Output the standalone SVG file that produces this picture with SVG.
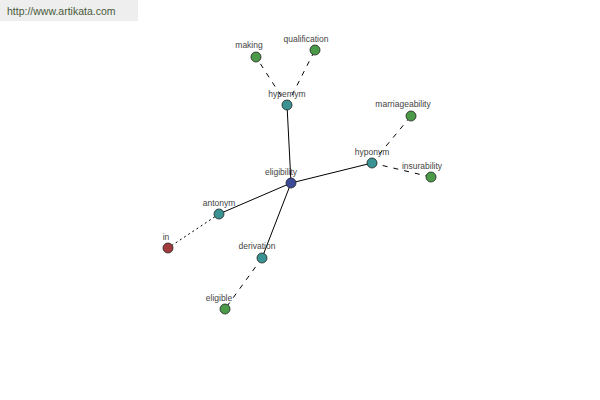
<svg xmlns="http://www.w3.org/2000/svg" width="600" height="400" viewBox="0 0 600 400">
<style>
.lbl{font-family:"Liberation Sans",Arial,sans-serif;font-size:8.5px;fill:#444;text-anchor:middle}
.n{stroke:#222;stroke-width:0.8}
.hub{fill:#3c4a98}
.rel{fill:#3a9292}
.leaf{fill:#4a9a48}
.red{fill:#a03c3c}
.solid{stroke:#000;stroke-width:1;fill:none}
.dash{stroke:#000;stroke-width:1;fill:none;stroke-dasharray:5,6}
.dot{stroke:#000;stroke-width:1;fill:none;stroke-dasharray:2,3}
</style>
<rect width="600" height="400" fill="#fff"/>
<rect x="0" y="0" width="138" height="21" fill="#eeeeee"/>
<text x="7" y="15" font-family="Liberation Sans,Arial,sans-serif" font-size="10.5" fill="#4a5a3a">http://www.artikata.com</text>
<g id="connectors">
<line class="solid" x1="291" y1="183" x2="287" y2="105"/>
<line class="solid" x1="291" y1="183" x2="372" y2="163"/>
<line class="solid" x1="291" y1="183" x2="219" y2="214"/>
<line class="solid" x1="291" y1="183" x2="262" y2="258"/>
<line class="dash" x1="287" y1="105" x2="256" y2="57"/>
<line class="dash" x1="287" y1="105" x2="315" y2="50"/>
<line class="dash" x1="372" y1="163" x2="411" y2="116"/>
<line class="dash" x1="372" y1="163" x2="431" y2="177"/>
<line class="dash" x1="262" y1="258" x2="225" y2="309"/>
<line class="dot" x1="219" y1="214" x2="168" y2="248"/>
</g>
<g id="eligibility"><circle class="n hub" cx="291" cy="183" r="5"/><text class="lbl" x="281" y="175">eligibility</text></g>
<g id="hypernym"><circle class="n rel" cx="287" cy="105" r="5"/><text class="lbl" x="287" y="97">hypernym</text></g>
<g id="making"><circle class="n leaf" cx="256" cy="57" r="5"/><text class="lbl" x="249" y="48">making</text></g>
<g id="qualification"><circle class="n leaf" cx="315" cy="50" r="5"/><text class="lbl" x="306" y="42">qualification</text></g>
<g id="hyponym"><circle class="n rel" cx="372" cy="163" r="5"/><text class="lbl" x="372" y="155">hyponym</text></g>
<g id="marriageability"><circle class="n leaf" cx="411" cy="116" r="5"/><text class="lbl" x="403" y="107">marriageability</text></g>
<g id="insurability"><circle class="n leaf" cx="431" cy="177" r="5"/><text class="lbl" x="422" y="169">insurability</text></g>
<g id="antonym"><circle class="n rel" cx="219" cy="214" r="5"/><text class="lbl" x="219" y="206">antonym</text></g>
<g id="in"><circle class="n red" cx="168" cy="248" r="5"/><text class="lbl" x="166" y="240">in</text></g>
<g id="derivation"><circle class="n rel" cx="262" cy="258" r="5"/><text class="lbl" x="257" y="249">derivation</text></g>
<g id="eligible"><circle class="n leaf" cx="225" cy="309" r="5"/><text class="lbl" x="219" y="301">eligible</text></g>
</svg>
